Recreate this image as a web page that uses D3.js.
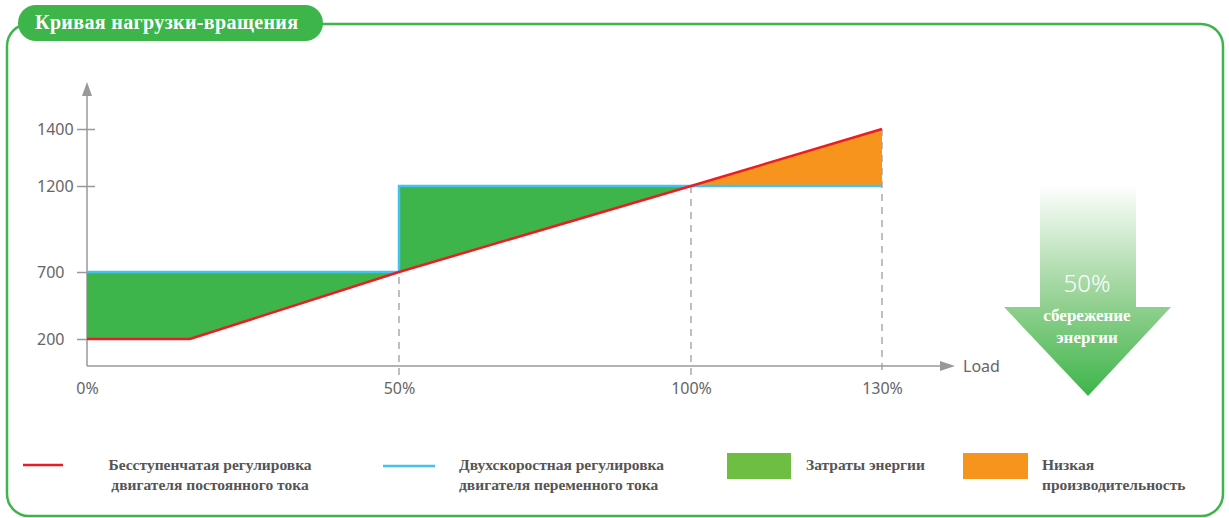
<!DOCTYPE html>
<html>
<head>
<meta charset="utf-8">
<script src="https://cdn.jsdelivr.net/npm/d3@7"></script>
<style>
  body { margin: 0; background: #fff; }
  svg { display: block; }
</style>
</head>
<body>
<div id="plot"></div>
<script>
// ---- data ----
var xTicks = [0, 50, 100, 130];
var xTickLabels = ["0%", "50%", "100%", "130%"];
var yTicks = [200, 700, 1200, 1400];

// stepless DC drive (red)
var redLoad = [0, 16.5, 50, 100, 130];
var redSpeed = [200, 200, 700, 1200, 1400];
// two-speed AC drive (blue)
var blueLoad = [0, 50, 50, 130];
var blueSpeed = [700, 700, 1200, 1200];

var legendLabels = [
    ["Бесступенчатая регулировка", "двигателя постоянного тока"],
    ["Двухскоростная регулировка", "двигателя переменного тока"],
    ["Затраты энергии"],
    ["Низкая", "производительность"]
];

// ---- layout ----
var width = 1229, height = 518;
var green = "#3db54a";
var axisColor = "#999";

var svg = d3.select("#plot").append("svg")
    .attr("width", width)
    .attr("height", height);

// the chart axes are not linear in the picture, so piecewise scales
var x = d3.scaleLinear().domain(xTicks).range([87, 399, 691, 882]);
var y = d3.scaleLinear().domain(yTicks).range([339, 272, 186, 129]);
var yBase = 366;

// frame + title pill
svg.append("rect")
    .attr("x", 7).attr("y", 24)
    .attr("width", 1216).attr("height", 492)
    .attr("rx", 22)
    .attr("fill", "none")
    .attr("stroke", green)
    .attr("stroke-width", 2.5);

svg.append("rect")
    .attr("x", 18).attr("y", 5)
    .attr("width", 305).attr("height", 36)
    .attr("rx", 18)
    .attr("fill", green);

svg.append("text")
    .attr("x", 35).attr("y", 29)
    .attr("fill", "#fff")
    .attr("font-family", "Liberation Serif, serif")
    .attr("font-weight", "bold")
    .attr("font-size", "20px")
    .attr("textLength", 263)
    .text("Кривая нагрузки-вращения");

// ---- helpers ----
function pts(loads, speeds) {
    return loads.map((l, i) => [l, speeds[i]]);
}
var red = pts(redLoad, redSpeed);
var blue = pts(blueLoad, blueSpeed);

var line = d3.line().x(d => x(d[0])).y(d => y(d[1]));

// green area: blue on top, red below, 0..100%
var greenPoly = blue.filter(d => d[0] <= 100)
    .concat([[100, blueSpeed[blueSpeed.length - 1]]])
    .concat(red.filter(d => d[0] <= 100).reverse());
// orange area: red above blue, 100..130%
var orangePoly = red.filter(d => d[0] >= 100)
    .concat(blue.filter(d => d[0] >= 100).reverse())
    .concat([[100, blueSpeed[blueSpeed.length - 1]]]);

var chart = svg.append("g");

// dashed guides
chart.selectAll(".guide")
    .data(xTicks.slice(1))
    .enter().append("line")
    .attr("x1", d => x(d)).attr("x2", d => x(d))
    .attr("y1", d => y(d3.max([redSpeed[redLoad.indexOf(d)] || 0, blueSpeed[blueLoad.lastIndexOf(d)] || 0])))
    .attr("y2", yBase + 10)
    .attr("stroke", "#aaa")
    .attr("stroke-width", 1.5)
    .attr("stroke-dasharray", "7,6");

// y axis with cross ticks
var yAxis = chart.append("g")
    .attr("transform", `translate(${x(0)},0)`)
    .call(d3.axisLeft(y).tickValues(yTicks).tickSize(10).tickFormat(d3.format("d")));
yAxis.select(".domain").remove();
yAxis.selectAll(".tick line")
    .attr("x2", d => d >= 1200 ? 8 : 0)
    .attr("x1", -10)
    .attr("stroke", axisColor)
    .attr("stroke-width", 1.5);
yAxis.selectAll(".tick text")
    .attr("x", 37 - x(0))
    .attr("text-anchor", "start")
    .attr("fill", "#666")
    .attr("font-family", "Noto Sans, sans-serif")
    .attr("font-size", "16px");

// x axis labels
var xAxis = chart.append("g")
    .attr("transform", `translate(0,${yBase})`)
    .call(d3.axisBottom(x).tickValues(xTicks).tickSize(0).tickPadding(17)
        .tickFormat((d, i) => xTickLabels[i]));
xAxis.select(".domain").remove();
xAxis.selectAll(".tick text")
    .attr("fill", "#666")
    .attr("font-family", "Noto Sans, sans-serif")
    .attr("font-size", "16px");

// axis lines + arrows
chart.append("line")
    .attr("x1", x(0)).attr("x2", x(0))
    .attr("y1", yBase).attr("y2", 92)
    .attr("stroke", axisColor).attr("stroke-width", 1.5);
chart.append("path")
    .attr("d", `M${x(0) - 5},96 L${x(0)},82 L${x(0) + 5},96 Z`)
    .attr("fill", axisColor);
chart.append("line")
    .attr("x1", x(0)).attr("x2", 944)
    .attr("y1", yBase).attr("y2", yBase)
    .attr("stroke", axisColor).attr("stroke-width", 1.5);
chart.append("path")
    .attr("d", `M940,${yBase - 5} L955,${yBase} L940,${yBase + 5} Z`)
    .attr("fill", axisColor);
chart.append("text")
    .attr("x", 963).attr("y", yBase + 6)
    .attr("fill", "#666")
    .attr("font-family", "Noto Sans, sans-serif")
    .attr("font-size", "16px")
    .text("Load");

// areas
chart.append("path")
    .attr("d", line(greenPoly) + "Z")
    .attr("fill", green);
chart.append("path")
    .attr("d", line(orangePoly) + "Z")
    .attr("fill", "#f7941e");

// lines
chart.append("path")
    .attr("d", line(blue))
    .attr("fill", "none")
    .attr("stroke", "#41c3ef")
    .attr("stroke-width", 2.5);
chart.append("path")
    .attr("d", line(red))
    .attr("fill", "none")
    .attr("stroke", "#ed1c24")
    .attr("stroke-width", 2.5);

// ---- savings arrow ----
var defs = svg.append("defs");
var grad = defs.append("linearGradient")
    .attr("id", "arrowGrad")
    .attr("x1", 0).attr("y1", 0).attr("x2", 0).attr("y2", 1);
grad.append("stop").attr("offset", "0%").attr("stop-color", "#fff");
grad.append("stop").attr("offset", "55%").attr("stop-color", "#95d193");
grad.append("stop").attr("offset", "100%").attr("stop-color", "#3db54a");

svg.append("path")
    .attr("d", "M1040,185 L1136,185 L1136,307 L1171,307 L1088,396 L1004,307 L1040,307 Z")
    .attr("fill", "url(#arrowGrad)");

svg.append("text")
    .attr("x", 1087).attr("y", 292)
    .attr("text-anchor", "middle")
    .attr("fill", "#fff")
    .attr("font-family", "Noto Sans, sans-serif")
    .attr("font-weight", 300)
    .attr("font-size", "24px")
    .text("50%");

svg.selectAll(".save")
    .data(["сбережение", "энергии"])
    .enter().append("text")
    .attr("x", 1087)
    .attr("y", (d, i) => 321 + i * 22)
    .attr("text-anchor", "middle")
    .attr("fill", "#fff")
    .attr("font-family", "Liberation Serif, serif")
    .attr("font-weight", "bold")
    .attr("font-size", "17px")
    .text(d => d);

// ---- legend ----
var legend = svg.append("g")
    .attr("font-family", "Liberation Serif, serif")
    .attr("font-weight", "bold")
    .attr("font-size", "15.5px")
    .attr("fill", "#555");

legend.append("line")
    .attr("x1", 23).attr("x2", 63).attr("y1", 465).attr("y2", 465)
    .attr("stroke", "#ed1c24").attr("stroke-width", 2.5);
legend.append("line")
    .attr("x1", 383).attr("x2", 435).attr("y1", 466).attr("y2", 466)
    .attr("stroke", "#41c3ef").attr("stroke-width", 2.5);
legend.append("rect")
    .attr("x", 727).attr("y", 453).attr("width", 64).attr("height", 26)
    .attr("fill", "#6fbe44");
legend.append("rect")
    .attr("x", 963).attr("y", 453).attr("width", 65).attr("height", 26)
    .attr("fill", "#f7941e");

var legendPos = [
    {x: 210, anchor: "middle"},
    {x: 459, anchor: "start"},
    {x: 806, anchor: "start"},
    {x: 1042, anchor: "start"}
];
legendLabels.forEach(function (lines, i) {
    legend.selectAll(null)
        .data(lines)
        .enter().append("text")
        .attr("x", legendPos[i].x)
        .attr("y", (d, j) => 470 + j * 20)
        .attr("text-anchor", legendPos[i].anchor)
        .text(d => d);
});
</script>
</body>
</html>
